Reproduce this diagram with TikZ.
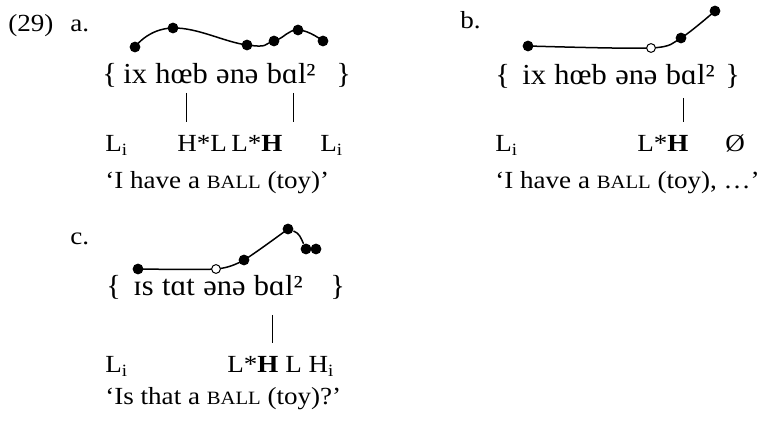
\documentclass[tikz,border=0pt]{standalone}
\usepackage{fontspec}
\setmainfont{Liberation Serif}[FakeStretch=1.1]
\newfontfamily\ipafont{Liberation Serif}[FakeStretch=1.05, WordSpace=1.1]
\usetikzlibrary{backgrounds}
\newcommand{\fakesc}[1]{{\fontsize{9.4pt}{11pt}\selectfont #1}}

\begin{document}
\begin{tikzpicture}[
    x=0.5pt, y=-0.5pt,
    gloss/.style={anchor=base west, inner sep=0, font=\fontsize{12.3pt}{14pt}\selectfont},
    ipa/.style={anchor=base west, inner sep=0, font=\ipafont\fontsize{14.5pt}{17pt}\selectfont},
    dot/.style={circle, fill, inner sep=0, minimum size=5.4pt},
    odot/.style={circle, draw, fill=white, inner sep=0, minimum size=4.4pt, line width=0.5pt},
    contour/.style={line width=0.75pt},
    assoc/.style={line width=0.45pt}
]
\useasboundingbox (0,0) rectangle (775,421);

% (29a)
\node[gloss] (num) at (8,32) {(29)};
\node[gloss] (la) at (70,32) {a.};
\node[dot] (a1) at (135,47) {};
\node[dot] (a2) at (173,28) {};
\node[dot] (a3) at (247,45) {};
\node[dot] (a4) at (274,41) {};
\node[dot] (a5) at (298,30) {};
\node[dot] (a6) at (323,41) {};
\node[ipa] (aopen) at (102,84) {\{};
\node[ipa] (atxt) at (123,84) {ix hœb ənə bɑl²};
\node[ipa] (aclose) at (336,84) {\}};
\coordinate (as1) at (186,93);
\coordinate (at1) at (186,122);
\coordinate (as2) at (293,93);
\coordinate (at2) at (293,122);
\node[gloss] (aLi) at (105,152) {L\textsubscript{i}};
\node[gloss] (aHL) at (177,152) {H*L};
\node[gloss] (aLH) at (231,152) {L*\textbf{H}};
\node[gloss] (aLf) at (320,152) {L\textsubscript{i}};
\node[gloss] (aglo) at (105,189) {‘I have a \fakesc{BALL} (toy)’};

% (29b)
\node[gloss] (lb) at (460,29) {b.};
\node[dot] (b1) at (528,46) {};
\node[odot] (b2) at (651,48) {};
\node[dot] (b3) at (681,38) {};
\node[dot] (b4) at (715,11) {};
\node[ipa] (bopen) at (495,85) {\{};
\node[ipa] (btxt) at (522,85) {ix hœb ənə bɑl²};
\node[ipa] (bclose) at (725,85) {\}};
\coordinate (bs1) at (683,98);
\coordinate (bt1) at (683,122);
\node[gloss] (bLi) at (495,152) {L\textsubscript{i}};
\node[gloss] (bLH) at (637,152) {L*\textbf{H}};
\node[gloss] (bnull) at (725,152) {Ø};
\node[gloss] (bglo) at (495,189) {‘I have a \fakesc{BALL} (toy), …’};

% (29c)
\node[gloss] (lc) at (70,245) {c.};
\node[dot] (c1) at (138,269) {};
\node[odot] (c2) at (216,269) {};
\node[dot] (c3) at (244,260) {};
\node[dot] (c4) at (288,229) {};
\node[dot] (c5) at (306,249) {};
\node[dot] (c6) at (316,249) {};
\node[ipa] (copen) at (106,296) {\{};
\node[ipa] (ctxt) at (133,296) {ɪs tɑt ənə bɑl²};
\node[ipa] (cclose) at (330,296) {\}};
\coordinate (cs1) at (272,315);
\coordinate (ct1) at (272,343);
\node[gloss] (cLi) at (105,373) {L\textsubscript{i}};
\node[gloss] (cLH) at (227,373) {L*\textbf{H} L H\textsubscript{i}};
\node[gloss] (cglo) at (105,405) {‘Is that a \fakesc{BALL} (toy)?’};

% Contours and associations
\begin{pgfonlayer}{background}
\draw[contour] plot[smooth, tension=0.8] coordinates {(a1) (a2) (a3) (a4) (a5) (a6)};
\draw[contour] plot[smooth, tension=0.5] coordinates {(b1) (b2) (b3) (b4)};
\draw[contour] plot[smooth, tension=0.4] coordinates {(c1) (c2) (c3) (c4)};
\draw[contour] (c4) to[out=-20, in=115] (c5);
\end{pgfonlayer}
\draw[assoc] (as1) -- (at1);
\draw[assoc] (as2) -- (at2);
\draw[assoc] (bs1) -- (bt1);
\draw[assoc] (cs1) -- (ct1);
\end{tikzpicture}
\end{document}
